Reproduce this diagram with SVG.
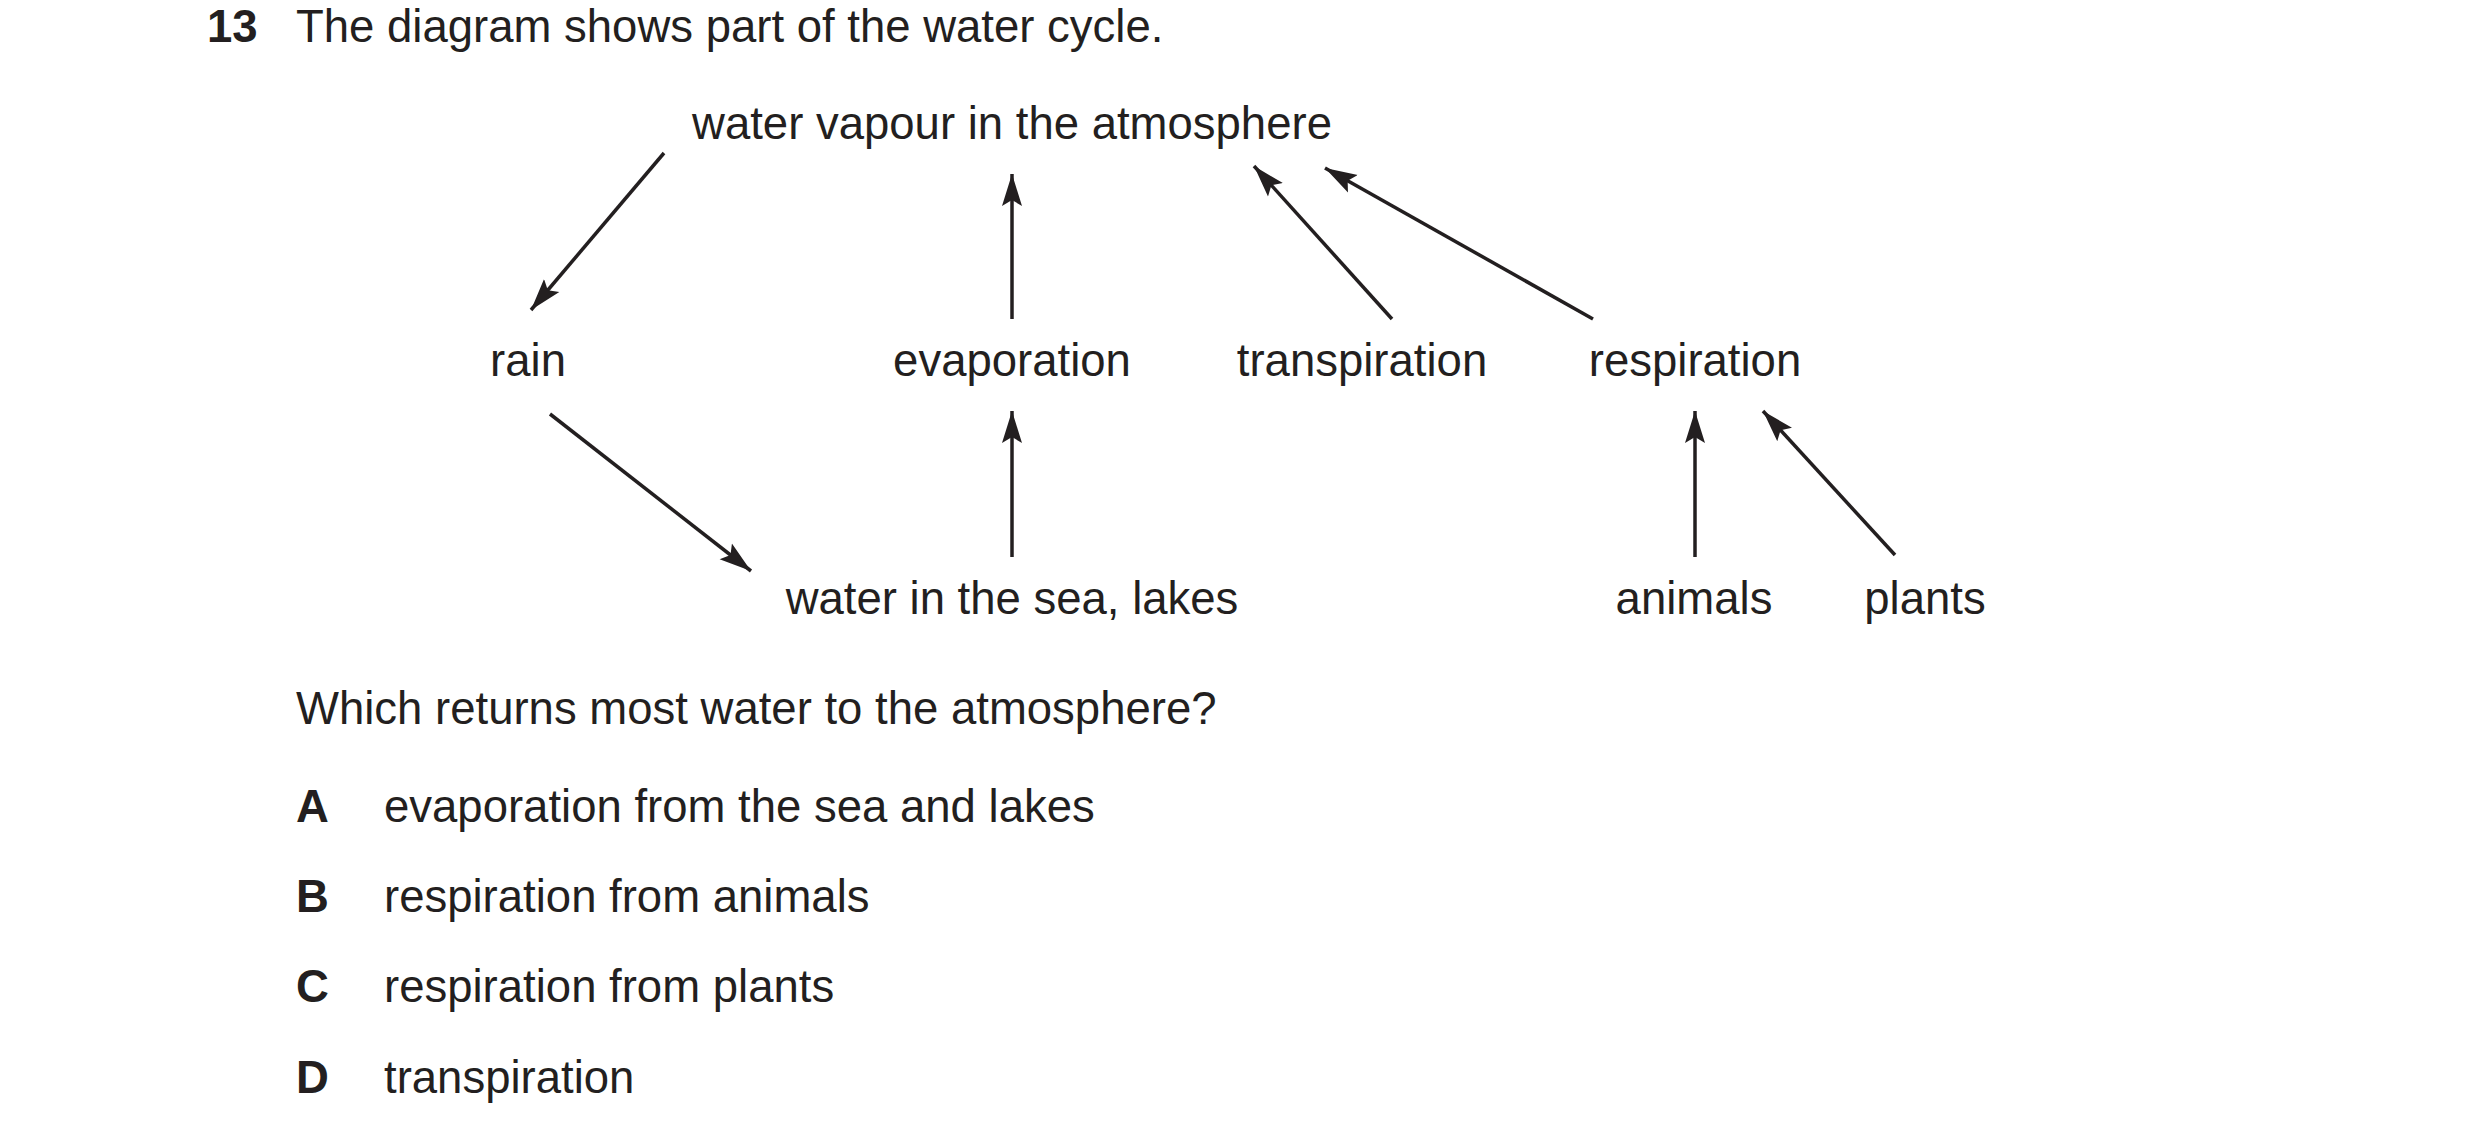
<svg xmlns="http://www.w3.org/2000/svg" width="2480" height="1142" viewBox="0 0 2480 1142">
<style>
text{font-family:"Liberation Sans",Arial,sans-serif;font-size:45.5px;fill:#231f20}
.c{text-anchor:middle}
.b{font-weight:bold}
line{stroke:#231f20;stroke-width:3.5}
</style>
<defs>
<marker id="ah" markerUnits="userSpaceOnUse" markerWidth="34" markerHeight="22" refX="32" refY="11" orient="auto">
<path d="M0,1 L32,11 L0,21 L6,11 Z" fill="#231f20"/>
</marker>
</defs>
<rect width="2480" height="1142" fill="#fff"/>
<text class="b" x="207" y="42">13</text>
<text x="296" y="42">The diagram shows part of the water cycle.</text>
<g id="vapour"><text class="c" x="1012" y="139">water vapour in the atmosphere</text></g>
<g id="rain"><text class="c" x="528" y="376">rain</text></g>
<g id="evaporation"><text class="c" x="1012" y="376">evaporation</text></g>
<g id="transpiration"><text class="c" x="1362" y="376">transpiration</text></g>
<g id="respiration"><text class="c" x="1695" y="376">respiration</text></g>
<g id="sea"><text class="c" x="1012" y="614">water in the sea, lakes</text></g>
<g id="animals"><text class="c" x="1694" y="614">animals</text></g>
<g id="plants"><text class="c" x="1925" y="614">plants</text></g>
<g id="connectors">
<line x1="664" y1="153" x2="531" y2="310" marker-end="url(#ah)"/>
<line x1="1012" y1="319" x2="1012" y2="174" marker-end="url(#ah)"/>
<line x1="1392" y1="319" x2="1254" y2="166" marker-end="url(#ah)"/>
<line x1="1593" y1="319" x2="1325" y2="168" marker-end="url(#ah)"/>
<line x1="550" y1="414" x2="751" y2="571" marker-end="url(#ah)"/>
<line x1="1012" y1="557" x2="1012" y2="411" marker-end="url(#ah)"/>
<line x1="1695" y1="557" x2="1695" y2="411" marker-end="url(#ah)"/>
<line x1="1895" y1="555" x2="1763" y2="411" marker-end="url(#ah)"/>
</g>
<text x="296" y="724">Which returns most water to the atmosphere?</text>
<text class="b" x="296" y="822">A</text><text x="384" y="822">evaporation from the sea and lakes</text>
<text class="b" x="296" y="912">B</text><text x="384" y="912">respiration from animals</text>
<text class="b" x="296" y="1002">C</text><text x="384" y="1002">respiration from plants</text>
<text class="b" x="296" y="1093">D</text><text x="384" y="1093">transpiration</text>
</svg>
